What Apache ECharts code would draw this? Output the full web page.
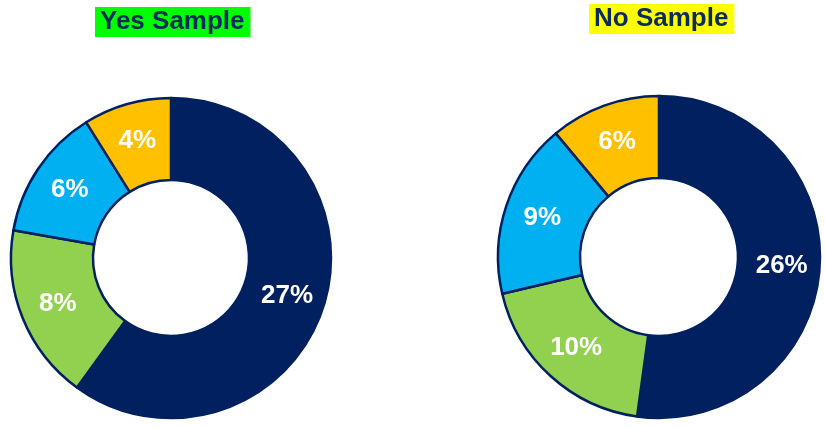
<!DOCTYPE html>
<html>
<head>
<meta charset="utf-8">
<script src="https://cdn.jsdelivr.net/npm/echarts@6/dist/echarts.min.js"></script>
<style>
  html, body { margin: 0; padding: 0; background: #fff; }
  #chart { width: 825px; height: 428px; }
</style>
</head>
<body>
<div id="chart"></div>
<script>
// slice order, clockwise from 12 o'clock
var segments = ["Segment 1", "Segment 2", "Segment 3", "Segment 4"];
var colors = ["#002060", "#92D050", "#00B0F0", "#FFC000"];
// shares; labels show them rounded
var yesValues = [27, 8, 6, 4];
var noValues = [26.4, 9.7, 8.9, 5.6];

function toData(values) {
  return values.map(function (v, i) {
    return { name: segments[i], value: v, itemStyle: { color: colors[i] } };
  });
}

function donut(name, values, center, radius) {
  return {
    name: name,
    type: "pie",
    center: center,
    radius: radius,
    startAngle: 90,
    clockwise: true,
    avoidLabelOverlap: false,
    itemStyle: { borderColor: "#002060", borderWidth: 2.5 },
    label: {
      show: true,
      position: "inside",
      formatter: function (p) {
        return Math.round(p.value) + "%";
      },
      color: "#fff",
      fontFamily: "Liberation Sans, Arial",
      fontWeight: "bold",
      fontSize: 26,
    },
    labelLine: { show: false },
    emphasis: { disabled: true },
    data: toData(values),
  };
}

var chart = echarts.init(document.getElementById("chart"));
chart.setOption({
  animation: false,
  title: [
    {
      text: "Yes Sample",
      left: 95,
      top: 7,
      padding: [2, 6, 2, 5],
      backgroundColor: "#00FF00",
      textStyle: {
        color: "#0B2A5E",
        fontFamily: "Liberation Sans, Arial",
        fontWeight: "bold",
        fontSize: 26,
        lineHeight: 26,
      },
    },
    {
      text: "No Sample",
      left: 589,
      top: 4,
      padding: [2, 6, 2, 5],
      backgroundColor: "#FFFF00",
      textStyle: {
        color: "#0B2A5E",
        fontFamily: "Liberation Sans, Arial",
        fontWeight: "bold",
        fontSize: 26,
        lineHeight: 26,
      },
    },
  ],
  series: [
    donut("Yes Sample", yesValues, [171, 258], [78, 160]),
    donut("No Sample", noValues, [659, 257], [79, 161]),
  ],
});
</script>
</body>
</html>
